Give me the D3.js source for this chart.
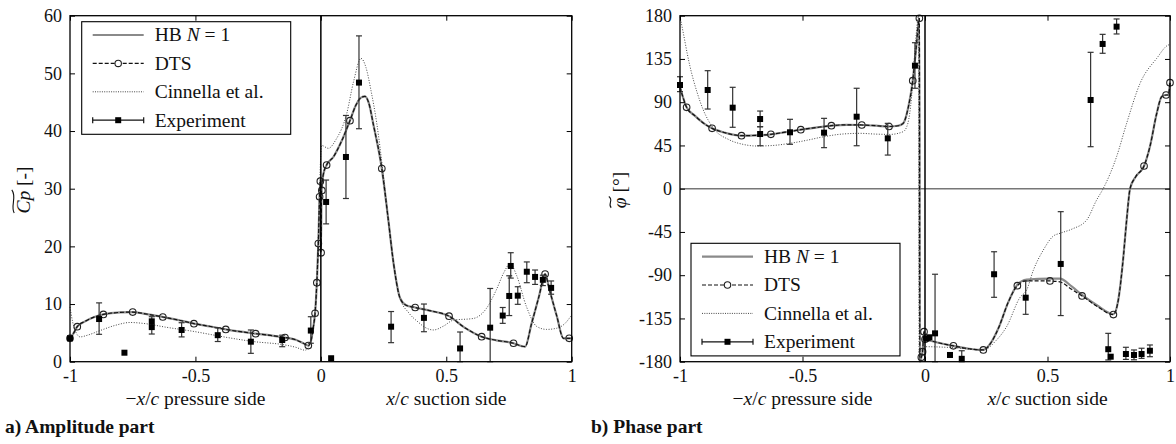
<!DOCTYPE html>
<html><head><meta charset="utf-8">
<script src="https://cdn.jsdelivr.net/npm/d3@7"></script>
<style>
body{margin:0;background:#fff}
svg{display:block}
</style>
</head><body>
<svg id="c" width="1176" height="444"></svg>
<script>
// ---------------- DATA ----------------
const xTicks = [-1, -0.5, 0, 0.5, 1];
const xTickLabels = ["-1", "-0.5", "0", "0.5", "1"];
const ampTicks = [0, 10, 20, 30, 40, 50, 60];
const phaseTicks = [-180, -135, -90, -45, 0, 45, 90, 135, 180];
const legendLabels = ["HB", "DTS", "Cinnella et al.", "Experiment"];
const xTitles = ["pressure side", "suction side"];
const panelTitles = ["a) Amplitude part", "b) Phase part"];

// Amplitude: HB N=1 / DTS curve
const ampHbX = [-1,-0.985,-0.971,-0.94,-0.9,-0.867,-0.8,-0.75,-0.7,-0.63,-0.56,-0.506,-0.44,-0.379,-0.32,-0.26,-0.2,-0.143,-0.1,-0.07,-0.05,-0.04,-0.03,-0.023,-0.016,-0.01,-0.005,-0.002,0,0.003,0.01,0.023,0.05,0.08,0.116,0.14,0.16,0.176,0.19,0.21,0.243,0.269,0.29,0.316,0.34,0.376,0.44,0.511,0.57,0.641,0.7,0.768,0.8,0.814,0.84,0.87,0.894,0.91,0.94,0.967,0.994,1];
const ampHbY = [4.0,5.0,6.1,7.0,7.8,8.2,8.55,8.6,8.3,7.75,7.15,6.6,6.1,5.6,5.2,4.86,4.55,4.2,3.8,3.2,2.8,3.5,6,8.4,13.7,20.5,28.6,31.3,19,29.7,32.5,34.1,35.5,38,41.8,44.5,45.8,46,45,41,33.5,24.6,17,11,9.8,9.4,8.8,7.9,6,4.34,3.7,3.2,2.7,2.6,6.6,11.4,15.2,12.7,8,4.06,4.06,4.0];
const ampDtsX = ampHbX;
const ampDtsY = ampHbY;
const ampDtsMarkX = [-1,-0.971,-0.867,-0.75,-0.63,-0.506,-0.379,-0.26,-0.143,-0.05,-0.023,-0.016,-0.01,-0.005,-0.002,0.001,0.004,0.023,0.116,0.243,0.376,0.511,0.641,0.768,0.894,0.99];
const ampDtsMarkY = [4.06,6.07,8.2,8.6,7.75,6.6,5.6,4.86,4.2,2.8,8.4,13.7,20.5,28.6,31.3,18.9,29.7,34.1,41.8,33.5,9.4,7.9,4.34,3.2,15.2,4.06];
// Amplitude: Cinnella et al.
const ampCinX = [-1,-0.99,-0.975,-0.96,-0.93,-0.88,-0.82,-0.76,-0.7,-0.62,-0.5,-0.4,-0.27,-0.143,-0.1,-0.063,-0.04,-0.025,-0.015,-0.008,-0.003,0.003,0.03,0.06,0.103,0.13,0.16,0.18,0.2,0.223,0.25,0.27,0.29,0.316,0.35,0.39,0.41,0.449,0.49,0.528,0.608,0.661,0.7,0.73,0.755,0.78,0.82,0.861,0.9,0.94,0.97,1];
const ampCinY = [9.5,7,5,4.3,4.6,5.4,6.3,6.8,6.6,6.0,5.2,4.4,3.5,2.9,2.5,2.0,3.5,8,15,25,33,37.5,37,38.5,43,48.5,52.6,51,47,41.3,32,24,17,11,8.5,6.8,6.1,5.5,6.2,7.2,7.5,9.3,12.5,15.5,17,15,9.5,6.1,5.6,5.8,6.5,8.1];
// Amplitude: experiment
const ampExpX  = [-1,-0.884,-0.783,-0.674,-0.674,-0.555,-0.411,-0.279,-0.154,-0.04,0.021,0.041,0.1,0.152,0.28,0.411,0.555,0.675,0.725,0.751,0.757,0.785,0.821,0.854,0.885,0.918];
const ampExpY  = [4.06,7.4,1.56,7.0,6.0,5.5,4.6,3.47,3.76,5.4,27.7,0.6,35.5,48.4,6.07,7.6,2.3,5.9,8.0,11.4,16.6,11.45,15.6,14.7,14.2,12.8];
const ampExpLo = [4.06,4.75,1.56,4.8,6.0,4.3,3.5,1.45,2.6,3.2,23.9,0.6,28.3,40.4,3.3,5.2,0,0,6.65,8.0,14.5,9.95,13.7,13.4,13.2,11.7];
const ampExpHi = [4.06,10.2,1.56,7.8,6.0,6.76,5.9,5.5,4.6,7.8,31.5,0.6,42.7,56.5,8.7,10,5.15,12.7,9.4,14.9,18.9,13,17.3,15.9,15,14];

// Phase: HB N=1
const phHbX = [-1,-0.99,-0.973,-0.94,-0.9,-0.869,-0.82,-0.749,-0.69,-0.629,-0.57,-0.507,-0.44,-0.382,-0.32,-0.258,-0.2,-0.147,-0.11,-0.089,-0.068,-0.05,-0.037,-0.023,-0.021,-0.015,-0.01,-0.004,0,0.005,0.02,0.05,0.116,0.18,0.238,0.27,0.3,0.34,0.377,0.415,0.51,0.55,0.6,0.641,0.7,0.769,0.789,0.81,0.823,0.837,0.86,0.894,0.918,0.946,0.966,0.984,0.993,1];
const phHbY = [106,97,84.7,76,67.5,62.8,58.5,55.2,55.5,56.6,58.8,61.4,63.8,65.6,66.5,66.3,65.6,64.7,65.5,68,85,112.4,144,177,-180,-175.4,-169.6,-148.8,-156.7,-157,-158,-160,-163.5,-166.5,-167.8,-160,-145,-118,-100,-94.5,-93.5,-93.5,-102,-110.5,-121,-130.5,-115.8,-70,-32.6,0,12.5,23.6,43.7,78.5,95.7,97.5,97.5,110.3];
// Phase: DTS
const phDtsX = phHbX;
const phDtsY = [106,97,84.7,76,67.5,62.8,58.5,55.2,55.5,56.6,58.8,61.4,63.8,65.6,66.5,66.3,65.6,64.7,65.5,68,85,112.4,144,177,-180,-175.4,-169.6,-148.8,-156.7,-157,-158,-160,-163.5,-166.5,-167.8,-160,-145,-118,-100.9,-96,-96,-97,-105,-111.6,-122,-131,-115.8,-70,-32.6,0,12.5,23.6,43.7,78.5,95.7,97.5,97.5,110.3];
const phDtsMarkX = [-0.973,-0.869,-0.749,-0.629,-0.507,-0.382,-0.258,-0.147,-0.05,-0.023,-0.015,-0.01,-0.004,0,0.116,0.238,0.377,0.51,0.641,0.769,0.894,0.984,1];
const phDtsMarkY = [84.7,62.8,55.2,56.6,61.4,65.6,66.3,64.7,112.4,177.3,-175.4,-169.6,-148.8,-156.7,-163.5,-167.8,-100.9,-96,-111.6,-131,23.6,97.5,110.3];
// Phase: Cinnella et al.
const phCinX = [-1,-0.985,-0.97,-0.959,-0.93,-0.905,-0.864,-0.8,-0.74,-0.687,-0.62,-0.551,-0.48,-0.415,-0.34,-0.265,-0.2,-0.143,-0.089,-0.07,-0.055,-0.041,-0.03,-0.026,-0.024,-0.02,-0.01,0,0.116,0.238,0.29,0.333,0.388,0.415,0.442,0.483,0.524,0.551,0.6,0.66,0.7,0.728,0.782,0.823,0.878,0.946,0.993,1];
const phCinY = [179,160,140,127,100,82,63,51,46,44.4,45,47.2,50.5,54,56.8,57.6,56.8,56.5,59.3,68,95,144,175,180,-180,-172,-166,-164.4,-165.4,-167.8,-158,-143.6,-113,-105.4,-85,-63.8,-49.2,-46.4,-42,-32.6,-12,0.4,33.3,68,109.7,135.7,149.5,150];
// Phase: experiment
const phExpX  = [-1,-0.887,-0.785,-0.673,-0.673,-0.551,-0.412,-0.279,-0.152,-0.041,0.005,0.018,0.041,0.102,0.15,0.282,0.411,0.554,0.676,0.725,0.782,0.748,0.758,0.82,0.853,0.884,0.918];
const phExpY  = [107.9,102.7,84.3,72.5,56.9,58.7,58.3,74.9,52.4,128,-156,-154.6,-150.5,-173,-177,-89,-113.4,-78.3,92.3,150.6,168.6,-167,-174.8,-172,-173,-172,-168.6];
const phExpLo = [101,82.9,63.9,64.5,44.7,46.2,42.7,44.7,35,104.5,-156,-154.6,-180,-173,-180,-113,-130.7,-132,43.7,140.9,161,-178.2,-174.8,-177.6,-178,-176.5,-174.8];
const phExpHi = [116.5,122.8,105.5,80.8,64.5,72.2,73.2,104.5,68,151.9,-156,-154.6,-89,-173,-168.6,-65.6,-96,-23.9,141.9,160.6,176.6,-150.5,-174.8,-165,-167.8,-166,-162.6];

// ---------------- DRAW ----------------
const svg = d3.select("#c");
const FONT = "Liberation Serif";
const TICKFS = 18, TXTFS = 19.5;

function txt(sel) {
  return sel.append("text").attr("font-family", FONT).attr("fill", "#111");
}
function tsp(t, s, italic) {
  const e = t.append("tspan").attr("font-family", FONT).text(s);
  if (italic) e.attr("font-style", "italic");
  return e;
}
function tildePath(g, x0, x1, y) {
  const w = x1 - x0;
  g.append("path")
    .attr("d", `M${x0},${y+1.2} C${x0+w*0.3},${y-2.8} ${x0+w*0.7},${y+4.2} ${x1},${y-1.2}`)
    .attr("fill", "none").attr("stroke", "#111").attr("stroke-width", 1.1);
}

function panel(cfg) {
  const x = d3.scaleLinear().domain([-1, 1]).range([cfg.x0, cfg.x1]);
  const y = d3.scaleLinear().domain(cfg.yDomain).range([361.7, 15.7]);
  const g = svg.append("g");
  const pts = (xs, ys) => d3.zip(xs, ys);
  const line = d3.line().x(d => x(d[0])).y(d => y(d[1])).curve(d3.curveMonotoneX);

  if (cfg.zeroH) {
    g.append("line").attr("x1", x(-1)).attr("x2", x(1)).attr("y1", y(0)).attr("y2", y(0))
      .attr("stroke", "#777").attr("stroke-width", 1.6);
  }
  g.append("path").datum(pts(cfg.hbX, cfg.hbY)).attr("d", line)
    .attr("fill", "none").attr("stroke", "#8a8a8a").attr("stroke-width", 2.2);
  g.append("path").datum(pts(cfg.cinX, cfg.cinY)).attr("d", line)
    .attr("fill", "none").attr("stroke", "#444").attr("stroke-width", 1).attr("stroke-dasharray", "1,1.6");
  g.append("path").datum(pts(cfg.dtsX, cfg.dtsY)).attr("d", line)
    .attr("fill", "none").attr("stroke", "#111").attr("stroke-width", 1.2).attr("stroke-dasharray", "4,2");
  g.selectAll(null).data(pts(cfg.mX, cfg.mY)).enter().append("circle")
    .attr("cx", d => x(d[0])).attr("cy", d => y(d[1])).attr("r", 3.3)
    .attr("fill", "none").attr("stroke", "#222").attr("stroke-width", 1.1);
  const ex = cfg.eX.map((v, i) => ({x: v, y: cfg.eY[i], lo: cfg.eLo[i], hi: cfg.eHi[i]}));
  const eb = ex.filter(d => d.hi - d.lo > 0.01);
  g.selectAll(null).data(eb).enter().append("line")
    .attr("x1", d => x(d.x)).attr("x2", d => x(d.x)).attr("y1", d => y(d.lo)).attr("y2", d => y(d.hi))
    .attr("stroke", "#333").attr("stroke-width", 1.2);
  ["lo", "hi"].forEach(k => {
    g.selectAll(null).data(eb).enter().append("line")
      .attr("x1", d => x(d.x) - 3).attr("x2", d => x(d.x) + 3).attr("y1", d => y(d[k])).attr("y2", d => y(d[k]))
      .attr("stroke", "#333").attr("stroke-width", 1.2);
  });
  g.selectAll(null).data(ex).enter().append("rect")
    .attr("x", d => x(d.x) - 3).attr("y", d => y(d.y) - 3).attr("width", 6).attr("height", 6)
    .attr("fill", "#000");

  g.append("line").attr("x1", x(0)).attr("x2", x(0)).attr("y1", y.range()[0]).attr("y2", y.range()[1])
    .attr("stroke", "#000").attr("stroke-width", 1.5);

  const ax = g.append("g");
  const styleAxis = s => {
    s.attr("font-family", FONT).attr("font-size", TICKFS);
    s.select(".domain").remove();
    s.selectAll("line").attr("stroke", "#000").attr("stroke-width", 1);
    s.selectAll("text").attr("fill", "#111").attr("font-family", FONT).attr("font-size", TICKFS);
  };
  ax.append("g").attr("transform", `translate(0,${y.range()[0]})`)
    .call(d3.axisBottom(x).tickValues(xTicks).tickFormat((d, i) => xTickLabels[i]).tickSize(-5).tickPadding(8)).call(styleAxis);
  ax.append("g").attr("transform", `translate(0,${y.range()[1]})`)
    .call(d3.axisTop(x).tickValues(xTicks).tickFormat("").tickSize(-5)).call(styleAxis);
  ax.append("g").attr("transform", `translate(${x(-1)},0)`)
    .call(d3.axisLeft(y).tickValues(cfg.yTicks).tickFormat(d => String(d)).tickSize(-5).tickPadding(8)).call(styleAxis);
  ax.append("g").attr("transform", `translate(${x(1)},0)`)
    .call(d3.axisRight(y).tickValues(cfg.yTicks).tickFormat("").tickSize(-5)).call(styleAxis);
  g.append("rect").attr("x", x(-1)).attr("y", y.range()[1]).attr("width", x(1) - x(-1)).attr("height", y.range()[0] - y.range()[1])
    .attr("fill", "none").attr("stroke", "#000").attr("stroke-width", 1.3);

  const t1 = txt(g).attr("x", x(-0.5)).attr("y", 405).attr("text-anchor", "middle").attr("font-size", TXTFS);
  tsp(t1, "\u2212"); tsp(t1, "x", true); tsp(t1, "/"); tsp(t1, "c", true); tsp(t1, " " + xTitles[0]);
  const t2 = txt(g).attr("x", x(0.5)).attr("y", 405).attr("text-anchor", "middle").attr("font-size", TXTFS);
  tsp(t2, "x", true); tsp(t2, "/"); tsp(t2, "c", true); tsp(t2, " " + xTitles[1]);

  txt(g).attr("x", cfg.titleX).attr("y", 433).attr("font-size", 19.5).attr("font-weight", "bold").text(cfg.title);

  const yg = g.append("g").attr("transform", `translate(${cfg.yTitleX},190) rotate(-90)`);
  const yt = txt(yg).attr("font-size", TXTFS);
  cfg.yTitle(yt);
  const tot = yt.node().getComputedTextLength();
  yt.attr("x", -tot / 2);
  const sub = yt.node().getSubStringLength(0, cfg.tildeChars);
  tildePath(yg, -tot / 2 + 0.5, -tot / 2 + sub + 1, cfg.tildeY);

  const L = cfg.legend;
  const lg = g.append("g").attr("transform", `translate(${L.x},${L.y})`);
  lg.append("rect").attr("width", 209).attr("height", 112.6).attr("fill", "#fff").attr("stroke", "#000").attr("stroke-width", 1.1);
  const ry = i => 13.3 + i * 28.4;
  const lx0 = 11, lx1 = 62, tx = 73;
  lg.append("line").attr("x1", lx0).attr("x2", lx1).attr("y1", ry(0)).attr("y2", ry(0)).attr("stroke", "#8a8a8a").attr("stroke-width", 2.2);
  lg.append("line").attr("x1", lx0).attr("x2", lx1).attr("y1", ry(1)).attr("y2", ry(1)).attr("stroke", "#111").attr("stroke-width", 1.2).attr("stroke-dasharray", "4,2");
  lg.append("circle").attr("cx", (lx0 + lx1) / 2).attr("cy", ry(1)).attr("r", 3.2).attr("fill", "#fff").attr("stroke", "#222").attr("stroke-width", 1.1);
  lg.append("line").attr("x1", lx0).attr("x2", lx1).attr("y1", ry(2)).attr("y2", ry(2)).attr("stroke", "#444").attr("stroke-width", 1).attr("stroke-dasharray", "1,1.3");
  lg.append("line").attr("x1", lx0).attr("x2", lx1).attr("y1", ry(3)).attr("y2", ry(3)).attr("stroke", "#111").attr("stroke-width", 1.2);
  [lx0, lx1].forEach(v => lg.append("line").attr("x1", v).attr("x2", v).attr("y1", ry(3) - 3).attr("y2", ry(3) + 3).attr("stroke", "#111").attr("stroke-width", 1.2));
  lg.append("rect").attr("x", (lx0 + lx1) / 2 - 3).attr("y", ry(3) - 3).attr("width", 6).attr("height", 6).attr("fill", "#000");
  legendLabels.forEach((lab, i) => {
    const t = txt(lg).attr("x", tx).attr("y", ry(i) + 6.5).attr("font-size", TXTFS);
    if (i === 0) {
      tsp(t, lab + " "); tsp(t, "N", true); tsp(t, " = 1");
    } else t.text(lab);
  });
}

panel({
  x0: 70, x1: 571.7, yDomain: [0, 60], yTicks: ampTicks,
  hbX: ampHbX, hbY: ampHbY, dtsX: ampDtsX, dtsY: ampDtsY, mX: ampDtsMarkX, mY: ampDtsMarkY,
  cinX: ampCinX, cinY: ampCinY, eX: ampExpX, eY: ampExpY, eLo: ampExpLo, eHi: ampExpHi,
  zeroH: false, title: panelTitles[0], titleX: 5,
  yTitleX: 30, tildeChars: 2, tildeY: -17,
  yTitle: t => { tsp(t, "Cp", true); tsp(t, " [-]"); },
  legend: {x: 81.7, y: 21.7}
});
panel({
  x0: 680, x1: 1170, yDomain: [-180, 180], yTicks: phaseTicks,
  hbX: phHbX, hbY: phHbY, dtsX: phDtsX, dtsY: phDtsY, mX: phDtsMarkX, mY: phDtsMarkY,
  cinX: phCinX, cinY: phCinY, eX: phExpX, eY: phExpY, eLo: phExpLo, eHi: phExpHi,
  zeroH: true, title: panelTitles[1], titleX: 591,
  yTitleX: 626, tildeChars: 1, tildeY: -16,
  yTitle: t => { tsp(t, "\u03C6", true); tsp(t, " [\u00B0]"); },
  legend: {x: 691, y: 243.3}
});
</script>
</body></html>
